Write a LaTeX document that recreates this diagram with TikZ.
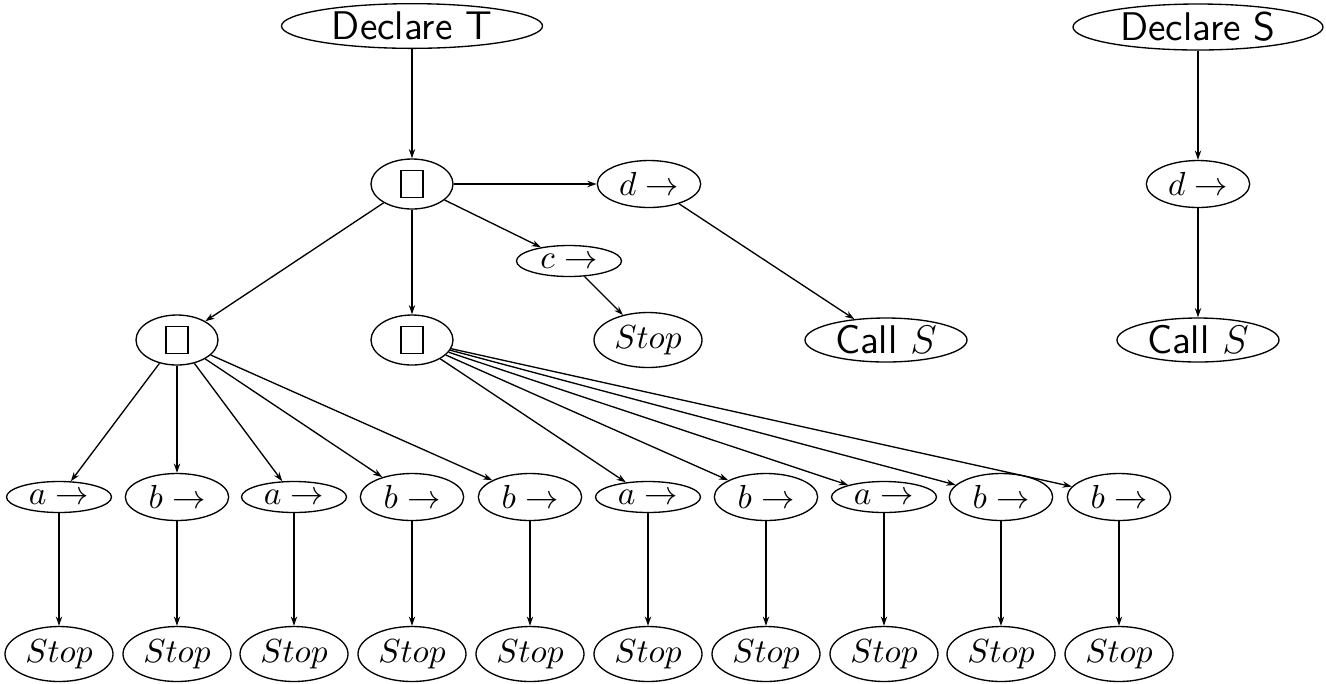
\documentclass[tikz,border=0pt]{standalone}
\usetikzlibrary{shapes.geometric,arrows.meta}
\newcommand{\emptybox}{{\setlength{\fboxsep}{0pt}\setlength{\fboxrule}{0.45pt}\fbox{\rule{0pt}{7.6pt}\hspace{6.1pt}}}}
\begin{document}
\begin{tikzpicture}[x=0.3pt,y=-0.3pt,
  every node/.style={ellipse,draw,line width=0.4pt,inner sep=0pt,font=\fontsize{10}{12}\selectfont},
  sans/.style={font=\fontsize{12}{14}\selectfont\sffamily},
  declnode/.style={sans,minimum width=78.3pt,minimum height=13.4pt},
  boxnode/.style={minimum width=24.6pt,minimum height=15pt},
  tallact/.style={minimum width=31pt,minimum height=14.1pt},
  shortact/.style={minimum width=31.5pt,minimum height=9.3pt},
  stopnode/.style={minimum width=32.4pt,minimum height=16.5pt},
  callnode/.style={sans,minimum width=48.6pt,minimum height=13.2pt},
  edge/.style={line width=0.4pt,-{Stealth[length=2.8pt,width=1.9pt]}}]
\useasboundingbox (0,0) rectangle (1326,683);
% left tree
\node[declnode] (declT) at (412,26) {Declare T};
\node[boxnode] (b0) at (412,184) {\emptybox};
\node[tallact] (d1) at (649,184) {$d\rightarrow$};
\node[shortact] (c1) at (569,261) {$c\rightarrow$};
\node[stopnode] (sc) at (648,340) {$Stop$};
\node[callnode] (call1) at (886,340) {Call $S$};
\node[boxnode] (bl) at (177,340) {\emptybox};
\node[boxnode] (bm) at (412,340) {\emptybox};
% row of actions
\node[shortact] (r1) at (59,497) {$a\rightarrow$};
\node[tallact] (r2) at (177,497) {$b\rightarrow$};
\node[shortact] (r3) at (294,497) {$a\rightarrow$};
\node[tallact] (r4) at (412,497) {$b\rightarrow$};
\node[tallact] (r5) at (530,497) {$b\rightarrow$};
\node[shortact] (r6) at (648,497) {$a\rightarrow$};
\node[tallact] (r7) at (766,497) {$b\rightarrow$};
\node[shortact] (r8) at (884,497) {$a\rightarrow$};
\node[tallact] (r9) at (1001,497) {$b\rightarrow$};
\node[tallact] (r10) at (1119,497) {$b\rightarrow$};
% stops
\node[stopnode] (s1) at (59,654) {$Stop$};
\node[stopnode] (s2) at (177,654) {$Stop$};
\node[stopnode] (s3) at (294,654) {$Stop$};
\node[stopnode] (s4) at (412,654) {$Stop$};
\node[stopnode] (s5) at (530,654) {$Stop$};
\node[stopnode] (s6) at (648,654) {$Stop$};
\node[stopnode] (s7) at (766,654) {$Stop$};
\node[stopnode] (s8) at (884,654) {$Stop$};
\node[stopnode] (s9) at (1001,654) {$Stop$};
\node[stopnode] (s10) at (1119,654) {$Stop$};
% right tree
\node[declnode,minimum width=75pt,minimum height=13.8pt] (declS) at (1198,27) {Declare S};
\node[tallact] (d2) at (1198,184) {$d\rightarrow$};
\node[callnode] (call2) at (1198,340) {Call $S$};
% edges
\draw[edge] (declT) -- (b0);
\draw[edge] (b0) -- (d1);
\draw[edge] (b0) -- (c1);
\draw[edge] (b0) -- (bl);
\draw[edge] (b0) -- (bm);
\draw[edge] (d1) -- (call1);
\draw[edge] (c1) -- (sc);
\foreach \i in {1,...,5} \draw[edge] (bl) -- (r\i);
\foreach \i in {6,...,10} \draw[edge] (bm) -- (r\i);
\foreach \i in {1,...,10} \draw[edge] (r\i) -- (s\i);
\draw[edge] (declS) -- (d2);
\draw[edge] (d2) -- (call2);
\end{tikzpicture}
\end{document}
